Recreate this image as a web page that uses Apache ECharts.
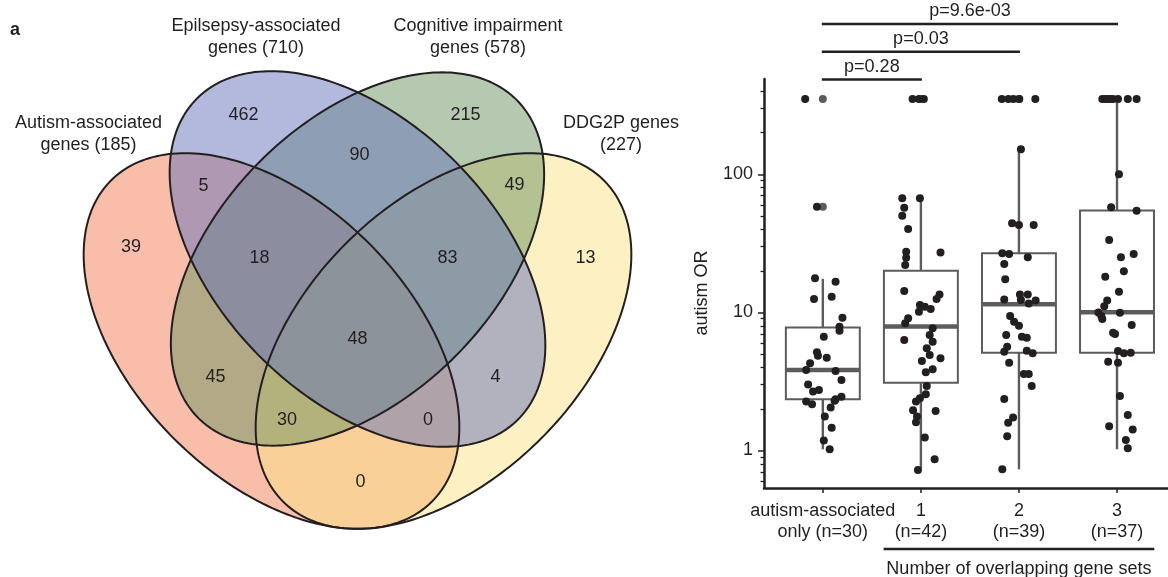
<!DOCTYPE html>
<html>
<head>
<meta charset="utf-8">
<script src="https://cdn.jsdelivr.net/npm/echarts@6/dist/echarts.min.js"></script>
<style>html,body{margin:0;padding:0;background:#fff}#c{width:1168px;height:577px}</style>
</head>
<body>
<div id="c"></div>
<script>
// ================= DATA =================
// Venn: set titles and region counts
const vennSetNames = ['Autism-associated\ngenes (185)', 'Epilsepsy-associated\ngenes (710)', 'Cognitive impairment\ngenes (578)', 'DDG2P genes\n(227)'];
const vennRegionKeys = ['A', 'E', 'C', 'D', 'AE', 'EC', 'CD', 'AEC', 'ECD', 'AECD', 'AC', 'ACD', 'AED', 'ED', 'AD'];
const vennRegionCounts = [39, 462, 215, 13, 5, 90, 49, 18, 83, 48, 45, 30, 0, 4, 0];

// Box plot: groups, jitter offsets (category units) and autism OR values
const groupLabels = ['autism-associated\nonly (n=30)', '1\n(n=42)', '2\n(n=39)', '3\n(n=37)'];
const g1Jitter = [-0.18,-0.06,-0.08,0.13,-0.09,0.09,0.20,0.17,0.17,0.01,-0.06,-0.05,0.04,-0.13,-0.17,0.13,0.19,-0.15,-0.04,-0.10,0.19,0.13,-0.17,-0.11,0.12,0.08,0.02,0.09,0.01,0.07];
const g1OR = [351,58.2,17.7,16.7,12.5,13.0,9.16,7.88,7.37,6.66,5.14,4.86,4.70,4.28,3.83,3.76,3.24,3.01,2.74,2.67,2.45,2.35,2.26,2.16,2.29,2.05,1.76,1.46,1.18,1.02];
const g2Jitter = [-0.085,-0.02,0.03,-0.19,-0.01,-0.17,-0.19,-0.13,-0.15,0.20,-0.15,-0.16,-0.17,0.19,0.16,-0.01,0.04,0.10,-0.02,-0.13,-0.16,0.12,0.09,-0.17,0.12,0.06,0.09,0.20,0.01,0.12,0.05,0.06,0.05,-0.01,-0.05,-0.08,0.15,-0.04,-0.05,0.04,0.14,-0.03];
const g2OR = [351,351,351,67.0,67.0,57.3,50.1,40.2,27.5,27.2,24.9,22.0,14.3,13.5,12.5,11.3,11.0,10.6,10.1,9.06,8.34,7.67,6.86,6.31,6.13,5.50,4.92,4.65,4.45,3.87,3.68,2.93,2.55,2.39,2.26,1.96,1.93,1.76,1.60,1.24,0.863,0.722];
const g3Jitter = [-0.175,-0.108,-0.057,0.004,0.167,0.02,-0.07,0.00,0.15,-0.17,-0.10,0.09,-0.15,-0.14,-0.15,0.01,0.09,0.02,0.10,0.17,-0.09,-0.05,0.00,-0.13,0.03,0.08,-0.12,-0.15,0.08,0.14,-0.10,0.05,0.10,0.13,-0.15,-0.06,-0.11,-0.12,-0.17];
const g3OR = [351,351,351,351,351,151.7,44.2,42.9,42.9,26.8,26.5,25.1,22.4,17.4,12.4,13.5,13.5,12.3,11.6,12.2,9.42,8.57,8.01,6.86,6.67,6.56,5.65,5.19,5.28,5.06,4.32,3.58,3.58,2.93,2.36,1.73,1.59,1.27,0.731];
const g4Jitter = [-0.15,-0.12,-0.10,-0.07,-0.04,0.01,0.11,0.20,0.02,-0.06,0.20,-0.08,0.04,0.17,0.07,-0.12,0.02,-0.10,-0.13,-0.19,-0.16,-0.15,0.03,0.15,-0.04,-0.02,0.01,0.07,0.14,-0.09,0.01,0.03,0.11,-0.08,0.16,0.09,0.11];
const g4OR = [351,351,351,351,351,351,351,351,100,57.7,54.5,33.4,25.1,26.5,19.9,18.1,14.1,12.2,11.1,10.0,9.42,8.96,9.95,8.11,7.13,6.98,5.25,5.06,5.11,4.40,4.32,2.48,1.81,1.50,1.42,1.19,1.04];
// [lower whisker, Q1, median, Q3, upper whisker]
const boxStats = [
  [1.02, 2.35, 3.83, 7.76, 17.5],
  [0.743, 3.10, 7.89, 20.0, 67.2],
  [0.731, 5.11, 11.47, 26.85, 150.6],
  [1.02, 5.11, 10.03, 54.7, 351]
];
const outlierOR = [[351, 58.2], [351], [351], []];
const pPairs = [[1, 2], [1, 3], [1, 4]];
const pLabels = ['p=0.28', 'p=0.03', 'p=9.6e-03'];
const yMajorTicks = [1, 10, 100];
const yMinorTicks = [0.6,0.7,0.8,0.9,2,3,4,5,6,7,8,9,20,30,40,50,60,70,80,90,200,300,400];
const xTickValues = [1, 2, 3, 4];
const yTitle = 'autism OR';
const xTitle = 'Number of overlapping gene sets';

// ================= LAYOUT / STYLE =================
const FONT = "'Liberation Sans', Arial, Helvetica, sans-serif";
const INK = '#231f20';
const BOX_GRAY = '#5c5c5c';
// Venn ellipse geometry (venn frame units, y up)
const vennShapes = [
  {cx: -86, cy: -82, a: 227, b: 138, angle: 135, fill: 'rgba(241,125,85,0.5)'},
  {cx: 0, cy: 0, a: 227, b: 138, angle: 135, fill: 'rgba(101,115,185,0.5)'},
  {cx: 0, cy: 0, a: 225, b: 138, angle: 45, fill: 'rgba(107,147,97,0.5)'},
  {cx: 86, cy: -82, a: 227, b: 138, angle: 45, fill: 'rgba(251,225,135,0.5)'}
];
const vennDrawOrder = [0, 3, 2, 1];
const vennRegionPos = {
  A: [-226.5, 12], E: [-114, 144], C: [108, 144], D: [228, 1],
  AE: [-154, 73], EC: [2, 104], CD: [157, 74],
  AEC: [-98, 1], ECD: [90, 1], AECD: [0, -80],
  AC: [-142, -118], ACD: [-70.5, -161], AED: [70.5, -161], ED: [138, -118], AD: [3, -223]
};
const vennTitlePos = [[-269, 124.5], [-101.5, 222.3], [120.5, 222.3], [263.5, 124.5]];

const chart = echarts.init(document.getElementById('c'), null, {renderer: 'canvas'});

function ellipsePoints(e, api) {
  const pts = [];
  const phi = e.angle * Math.PI / 180;
  const N = 240;
  for (let k = 0; k < N; k++) {
    const t = k / N * 2 * Math.PI;
    const x = e.cx + e.a * Math.cos(t) * Math.cos(phi) - e.b * Math.sin(t) * Math.sin(phi);
    const y = e.cy + e.a * Math.cos(t) * Math.sin(phi) + e.b * Math.sin(t) * Math.cos(phi);
    pts.push(api.coord([x, y]));
  }
  return pts;
}

const jitterData = [];
[[g1Jitter, g1OR], [g2Jitter, g2OR], [g3Jitter, g3OR], [g4Jitter, g4OR]].forEach(function (g, gi) {
  g[0].forEach(function (dx, k) { jitterData.push([gi + 1 + dx, g[1][k]]); });
});
const outlierData = [];
outlierOR.forEach(function (arr, gi) { arr.forEach(function (v) { outlierData.push([gi + 1, v]); }); });

const BOX_HALF = 0.377;
const BRACKET_STEP = 27.8;
const X_MIN = 0.4, X_MAX = 4.52;

function xLabelFmt(v) { return groupLabels[Math.round(v) - 1]; }
const xLabelStyle = {margin: 12, fontSize: 18, lineHeight: 21.6, color: INK, fontFamily: FONT,
                     interval: 0, hideOverlap: false, showMinLabel: true, showMaxLabel: true, formatter: xLabelFmt};

const option = {
  animation: false,
  backgroundColor: '#ffffff',
  textStyle: {fontFamily: FONT},
  grid: [
    {left: 0, top: 0, width: 700, height: 577},
    {left: 764, top: 79, right: 0, bottom: 89}
  ],
  xAxis: [
    {type: 'value', gridIndex: 0, min: -357.5, max: 342.5, show: false},
    {type: 'value', gridIndex: 1, position: 'bottom', min: X_MIN, max: X_MAX,
     axisLine: {show: true, onZero: false, lineStyle: {color: INK, width: 2.5}},
     axisTick: {show: true, customValues: xTickValues, length: 5, lineStyle: {color: INK, width: 1.5}},
     axisLabel: Object.assign({show: true, customValues: xTickValues.slice(0, 1)}, xLabelStyle),
     splitLine: {show: false}},
    {type: 'value', gridIndex: 1, position: 'bottom', offset: 0, min: X_MIN, max: X_MAX,
     axisLine: {show: false, onZero: false},
     axisTick: {show: false},
     axisLabel: Object.assign({show: true, customValues: xTickValues.slice(1)}, xLabelStyle),
     splitLine: {show: false}}
  ],
  yAxis: [
    {type: 'value', gridIndex: 0, min: -318, max: 259, show: false},
    {type: 'log', gridIndex: 1, logBase: 10, min: 0.535, max: 490, position: 'left',
     axisLine: {show: true, onZero: false, lineStyle: {color: INK, width: 2.5}},
     axisTick: {show: true, customValues: yMajorTicks, length: 6, lineStyle: {color: INK, width: 1.5}},
     axisLabel: {show: true, customValues: yMajorTicks, showMinLabel: true, showMaxLabel: true,
                 formatter: function (v) { return String(Math.round(v)); },
                 margin: 11, fontSize: 18, color: INK, fontFamily: FONT},
     splitLine: {show: false}},
    {type: 'log', gridIndex: 1, logBase: 10, min: 0.535, max: 490, position: 'left', offset: 0,
     axisLine: {show: false},
     axisTick: {show: true, customValues: yMinorTicks, length: 3.5, lineStyle: {color: INK, width: 1.3}},
     axisLabel: {show: false},
     splitLine: {show: false}}
  ],
  series: [
    // Venn fills
    {type: 'custom', xAxisIndex: 0, yAxisIndex: 0, silent: true, z: 1,
     data: vennDrawOrder.map(function (i) { return [i]; }),
     renderItem: function (params, api) {
       const e = vennShapes[api.value(0)];
       return {type: 'polygon', shape: {points: ellipsePoints(e, api)}, style: {fill: e.fill, stroke: null}};
     }},
    // Venn outlines
    {type: 'custom', xAxisIndex: 0, yAxisIndex: 0, silent: true, z: 2,
     data: vennDrawOrder.map(function (i) { return [i]; }),
     renderItem: function (params, api) {
       const e = vennShapes[api.value(0)];
       return {type: 'polygon', shape: {points: ellipsePoints(e, api)}, style: {fill: null, stroke: INK, lineWidth: 2}};
     }},
    // Venn region counts
    {type: 'custom', xAxisIndex: 0, yAxisIndex: 0, silent: true, z: 3,
     data: vennRegionCounts.map(function (c, i) { return [i, c]; }),
     renderItem: function (params, api) {
       const key = vennRegionKeys[api.value(0)];
       const p = api.coord(vennRegionPos[key]);
       return {type: 'text', x: p[0], y: p[1],
               style: {text: String(api.value(1)), fontSize: 18, fontFamily: FONT, fill: INK, align: 'center', verticalAlign: 'middle'}};
     }},
    // Venn set titles
    {type: 'custom', xAxisIndex: 0, yAxisIndex: 0, silent: true, z: 3,
     data: vennSetNames.map(function (n, i) { return [i]; }),
     renderItem: function (params, api) {
       const i = api.value(0);
       const p = api.coord(vennTitlePos[i]);
       return {type: 'text', x: p[0], y: p[1],
               style: {text: vennSetNames[i], fontSize: 18, lineHeight: 22, fontFamily: FONT, fill: INK, align: 'center', verticalAlign: 'middle'}};
     }},
    // Box plots
    {type: 'custom', xAxisIndex: 1, yAxisIndex: 1, silent: true, z: 2,
     data: boxStats.map(function (s, i) { return [i + 1].concat(s); }),
     encode: {x: 0, y: [1, 2, 3, 4, 5]},
     renderItem: function (params, api) {
       const x = api.value(0);
       const pLo = api.coord([x, api.value(1)]);
       const pQ1 = api.coord([x, api.value(2)]);
       const pMed = api.coord([x, api.value(3)]);
       const pQ3 = api.coord([x, api.value(4)]);
       const pHi = api.coord([x, api.value(5)]);
       const left = api.coord([x - BOX_HALF, api.value(3)])[0];
       const right = api.coord([x + BOX_HALF, api.value(3)])[0];
       return {type: 'group', children: [
         {type: 'line', shape: {x1: pLo[0], y1: pLo[1], x2: pQ1[0], y2: pQ1[1]}, style: {stroke: BOX_GRAY, lineWidth: 2.4}},
         {type: 'line', shape: {x1: pQ3[0], y1: pQ3[1], x2: pHi[0], y2: pHi[1]}, style: {stroke: BOX_GRAY, lineWidth: 2.4}},
         {type: 'rect', shape: {x: left, y: pQ3[1], width: right - left, height: pQ1[1] - pQ3[1]}, style: {fill: '#ffffff', stroke: BOX_GRAY, lineWidth: 2}},
         {type: 'line', shape: {x1: left, y1: pMed[1], x2: right, y2: pMed[1]}, style: {stroke: BOX_GRAY, lineWidth: 4.5}}
       ]};
     }},
    // Outliers
    {type: 'scatter', xAxisIndex: 1, yAxisIndex: 1, silent: true, z: 3, symbolSize: 8,
     itemStyle: {color: BOX_GRAY, opacity: 1}, data: outlierData},
    // Jittered points
    {type: 'scatter', xAxisIndex: 1, yAxisIndex: 1, silent: true, z: 4, symbolSize: 8,
     itemStyle: {color: INK, opacity: 1}, data: jitterData},
    // Significance brackets
    {type: 'custom', xAxisIndex: 1, yAxisIndex: 1, silent: true, z: 5, clip: false,
     data: pPairs.map(function (p, i) { return [p[0], p[1], i]; }),
     renderItem: function (params, api) {
       const lvl = api.value(2);
       const a = api.coord([api.value(0), 490]);
       const b = api.coord([api.value(1), 490]);
       const y = a[1] - lvl * BRACKET_STEP + 0.5;
       return {type: 'group', children: [
         {type: 'line', shape: {x1: a[0] - 1, y1: y, x2: b[0] + 1, y2: y}, style: {stroke: INK, lineWidth: 2.5}},
         {type: 'text', x: (a[0] + b[0]) / 2, y: y - 12.5,
          style: {text: pLabels[lvl], fontSize: 18, fontFamily: FONT, fill: INK, align: 'center', verticalAlign: 'middle'}}
       ]};
     }}
  ]
};
chart.setOption(option);

// annotations positioned through the box-plot axes
const uL = chart.convertToPixel({xAxisIndex: 1, yAxisIndex: 1}, [2 - 0.38, 0.535]);
const uR = chart.convertToPixel({xAxisIndex: 1, yAxisIndex: 1}, [4 + 0.38, 0.535]);
chart.setOption({
  graphic: [
    {type: 'text', left: 10, top: 21, style: {text: 'a', fontSize: 18, fontWeight: 'bold', fontFamily: FONT, fill: INK}},
    {type: 'line', shape: {x1: uL[0], y1: uL[1] + 61, x2: uR[0], y2: uR[1] + 61}, style: {stroke: INK, lineWidth: 2.5}},
    {type: 'text', x: (uL[0] + uR[0]) / 2, y: uL[1] + 81,
     style: {text: xTitle, fontSize: 18, fontFamily: FONT, fill: INK, align: 'center', verticalAlign: 'middle'}},
    {type: 'text', x: 702, y: 293, rotation: Math.PI / 2,
     style: {text: yTitle, fontSize: 18, fontFamily: FONT, fill: INK, align: 'center', verticalAlign: 'middle'}}
  ]
});
</script>
</body>
</html>
